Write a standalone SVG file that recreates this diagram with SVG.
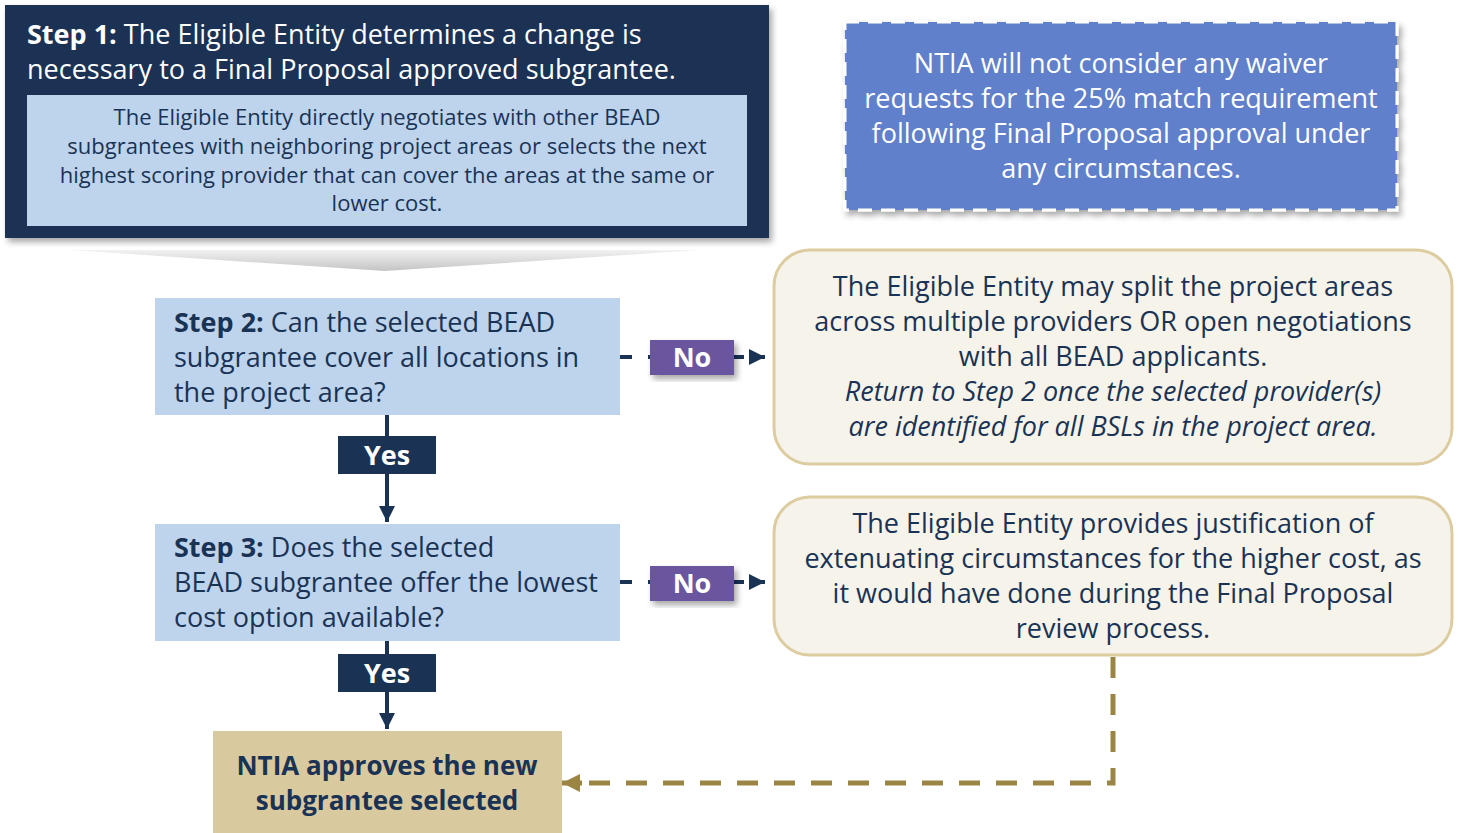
<svg xmlns="http://www.w3.org/2000/svg" width="1458" height="833" viewBox="0 0 1458 833">
<defs>
<style>
text{font-family:"Open Sans","Liberation Sans",Arial,sans-serif;}
.nav{fill:#1a3355;}
.lb{fill:#bdd4ec;}
.dk{fill:#1a3355;}
.wt{fill:#ffffff;}
.t27{font-size:27px;}
.t26{font-size:26px;}
.t22{font-size:22px;}
.c{text-anchor:middle;}
.b{font-weight:bold;}
.i{font-style:italic;}
.cream{fill:#f6f3ea;stroke:#dccca0;stroke-width:3;}
.no{fill:#6b579e;}
.navc{stroke:#1a3355;stroke-width:4;fill:none;}
.gold{stroke:#9b8545;stroke-width:5;fill:none;stroke-dasharray:21 16;}
</style>
<filter id="sh" x="-10%" y="-10%" width="125%" height="130%">
<feDropShadow dx="3" dy="4" stdDeviation="3" flood-color="#000" flood-opacity="0.35"/>
</filter>
<linearGradient id="chev" x1="0" y1="0" x2="0" y2="1">
<stop offset="0" stop-color="#f2f2f2"/>
<stop offset="1" stop-color="#c4c4c4"/>
</linearGradient>
<marker id="an" viewBox="0 0 10 10" refX="10" refY="5" markerWidth="4" markerHeight="4" markerUnits="strokeWidth" orient="auto">
<path d="M0,0L10,5L0,10z" fill="#1a3355"/>
</marker>
<marker id="ag" viewBox="0 0 10 10" refX="10" refY="5" markerWidth="3.6" markerHeight="3.6" markerUnits="strokeWidth" orient="auto">
<path d="M0,0L10,5L0,10z" fill="#9b8545"/>
</marker>
</defs>
<rect width="1458" height="833" fill="#ffffff"/>

<g id="connectors">
<path d="M620,357 H765" class="navc" stroke-dasharray="12 16" marker-end="url(#an)"/>
<path d="M620,582 H765" class="navc" stroke-dasharray="12 16" marker-end="url(#an)"/>
<path d="M387,415 V522" class="navc" marker-end="url(#an)"/>
<path d="M387,641 V729" class="navc" marker-end="url(#an)"/>
<path d="M1113,657 V783 H582" class="gold"/>
<path d="M582,783 H562" stroke="#9b8545" stroke-width="5" marker-end="url(#ag)"/>
</g>

<g id="chevron">
<polygon points="70,250 700,250 385,271" fill="url(#chev)"/>
</g>

<g id="step1">
<rect x="5" y="5" width="764" height="233" class="nav" filter="url(#sh)"/>
<text x="27" y="44" class="wt t27"><tspan class="b">Step 1:</tspan> The Eligible Entity determines a change is</text>
<text x="27" y="79" class="wt t27">necessary to a Final Proposal approved subgrantee.</text>
<rect x="27" y="95" width="720" height="131" class="lb"/>
<g class="dk t22 c">
<text x="387" y="125">The Eligible Entity directly negotiates with other BEAD</text>
<text x="387" y="154">subgrantees with neighboring project areas or selects the next</text>
<text x="387" y="183">highest scoring provider that can cover the areas at the same or</text>
<text x="387" y="211">lower cost.</text>
</g>
</g>

<g id="ntia-note">
<rect x="845" y="22" width="552" height="188" fill="#6080cc" stroke="#ffffff" stroke-width="3" stroke-dasharray="14 9" filter="url(#sh)"/>
<g class="wt t27 c">
<text x="1121" y="73">NTIA will not consider any waiver</text>
<text x="1121" y="108">requests for the 25% match requirement</text>
<text x="1121" y="143">following Final Proposal approval under</text>
<text x="1121" y="178">any circumstances.</text>
</g>
</g>

<g id="step2">
<rect x="155" y="298" width="465" height="117" class="lb"/>
<g class="dk t27">
<text x="174" y="332"><tspan class="b">Step 2:</tspan> Can the selected BEAD</text>
<text x="174" y="367">subgrantee cover all locations in</text>
<text x="174" y="402">the project area?</text>
</g>
</g>

<g id="no1">
<rect x="650" y="340" width="84" height="35" class="no" filter="url(#sh)"/>
<text x="692" y="367" class="wt b c t27">No</text>
</g>

<g id="split">
<rect x="774" y="250" width="678" height="214" rx="36" class="cream"/>
<g class="dk t27 c">
<text x="1113" y="296">The Eligible Entity may split the project areas</text>
<text x="1113" y="331">across multiple providers OR open negotiations</text>
<text x="1113" y="366">with all BEAD applicants.</text>
<text x="1113" y="401" class="i">Return to Step 2 once the selected provider(s)</text>
<text x="1113" y="436" class="i">are identified for all BSLs in the project area.</text>
</g>
</g>

<g id="yes1">
<rect x="338" y="436" width="98" height="38" class="nav"/>
<text x="387" y="465" class="wt b c t27">Yes</text>
</g>

<g id="step3">
<rect x="155" y="524" width="465" height="117" class="lb"/>
<g class="dk t27">
<text x="174" y="557"><tspan class="b">Step 3:</tspan> Does the selected</text>
<text x="174" y="592">BEAD subgrantee offer the lowest</text>
<text x="174" y="627">cost option available?</text>
</g>
</g>

<g id="no2">
<rect x="650" y="566" width="84" height="35" class="no" filter="url(#sh)"/>
<text x="692" y="593" class="wt b c t27">No</text>
</g>

<g id="justify">
<rect x="774" y="497" width="678" height="158" rx="36" class="cream"/>
<g class="dk t27 c">
<text x="1113" y="533">The Eligible Entity provides justification of</text>
<text x="1113" y="568">extenuating circumstances for the higher cost, as</text>
<text x="1113" y="603">it would have done during the Final Proposal</text>
<text x="1113" y="638">review process.</text>
</g>
</g>

<g id="yes2">
<rect x="338" y="654" width="98" height="38" class="nav"/>
<text x="387" y="683" class="wt b c t27">Yes</text>
</g>

<g id="approve">
<rect x="213" y="731" width="349" height="102" fill="#d8c99e"/>
<g class="dk b c t26">
<text x="387" y="775">NTIA approves the new</text>
<text x="387" y="810">subgrantee selected</text>
</g>
</g>
</svg>
